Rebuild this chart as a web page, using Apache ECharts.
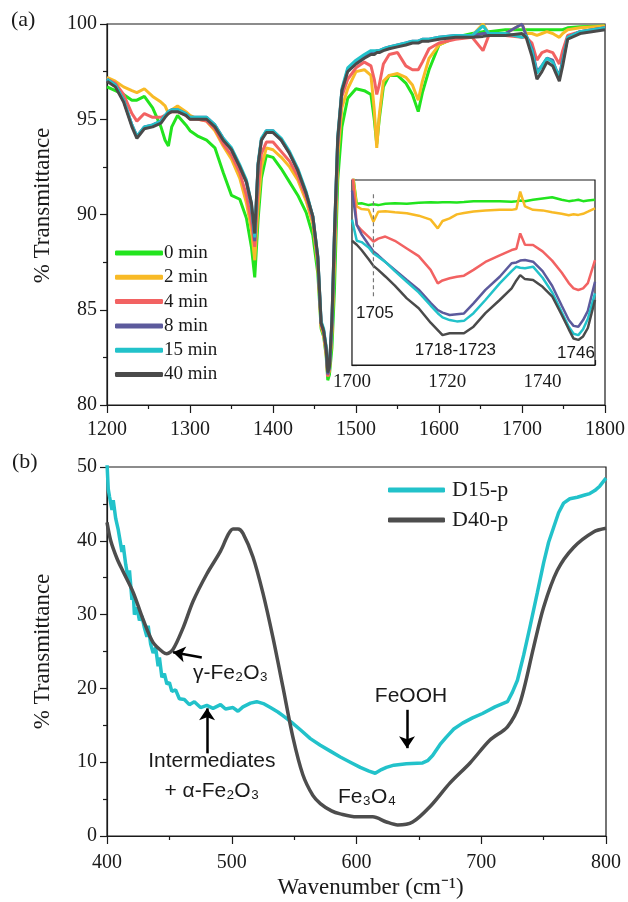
<!DOCTYPE html>
<html><head><meta charset="utf-8">
<script src="https://cdn.jsdelivr.net/npm/echarts@6/dist/echarts.min.js"></script>
<style>html,body{margin:0;padding:0;background:#fff}#c{width:628px;height:902px}</style>
</head><body><div id="c"></div>
<script>
// ---------- Panel (a): main spectra ----------
const wnA = [1200,1210,1220,1230,1236,1245,1255,1265,1270,1274,1278,1285,1295,1300,1310,1320,1330,1340,1350,1360,1368,1374,1378,1382,1386,1392,1400,1410,1420,1430,1440,1448,1454,1458,1461,1464,1466,1468,1471,1474,1478,1483,1490,1500,1510,1518,1522,1525,1528,1533,1540,1550,1560,1568,1575,1580,1588,1600,1620,1640,1653,1660,1680,1700,1705,1712,1718,1724,1730,1737,1741,1745,1749,1755,1770,1800];
const a40 = [97.0,96.7,95.9,94.6,94.0,94.5,94.6,94.8,95.1,95.3,95.4,95.4,95.2,95.0,95.0,95.0,94.6,93.9,93.4,92.5,91.7,90.6,89.0,92.6,93.9,94.3,94.3,93.9,93.2,92.3,91.1,89.9,87.8,84.3,83.9,83.0,81.7,82.0,84.5,89.0,94.0,96.5,97.5,97.9,98.2,98.4,98.4,98.5,98.5,98.6,98.7,98.8,98.9,99.0,99.0,99.1,99.1,99.2,99.3,99.3,99.35,99.4,99.4,99.5,99.3,98.3,97.1,97.5,98.0,97.8,97.4,97.0,97.8,99.2,99.5,99.7];
const a15 = [97.1,96.8,96.0,94.7,94.1,94.6,94.7,94.9,95.2,95.4,95.5,95.5,95.3,95.1,95.1,95.1,94.7,94.0,93.5,92.6,91.8,90.6,88.8,92.7,94.0,94.4,94.4,94.0,93.3,92.4,91.2,89.9,87.8,84.4,84.0,83.1,81.7,82.0,84.4,89.0,94.1,96.6,97.7,98.1,98.4,98.6,98.6,98.6,98.6,98.7,98.8,98.9,99.0,99.1,99.1,99.2,99.2,99.3,99.4,99.4,99.9,99.5,99.5,99.3,99.4,98.6,97.4,97.8,98.2,98.0,97.6,97.2,98.0,99.3,99.6,99.8];
const a8 = [97.1,96.8,96.0,94.7,94.1,94.6,94.7,94.9,95.2,95.4,95.5,95.5,95.3,95.1,95.1,95.1,94.7,94.0,93.4,92.5,91.7,90.4,88.6,92.6,93.9,94.4,94.4,93.9,93.2,92.3,91.1,89.9,87.7,84.3,83.9,83.0,81.6,82.0,84.3,88.8,93.9,96.5,97.6,98.0,98.3,98.5,98.5,98.6,98.6,98.7,98.8,98.9,99.0,99.1,99.1,99.2,99.2,99.3,99.4,99.4,99.5,99.5,99.5,100.0,99.4,98.7,97.5,97.8,98.2,98.1,97.6,97.3,98.1,99.3,99.6,99.8];
const a4 = [97.1,96.9,96.3,95.3,94.9,95.3,95.1,95.1,95.2,95.3,95.4,95.4,95.2,95.0,95.0,94.9,94.5,93.7,93.1,92.2,91.0,89.6,88.3,91.3,93.2,93.8,93.8,93.3,92.8,92.0,90.9,89.7,87.5,84.2,83.8,82.8,81.5,81.9,84.0,88.0,93.5,96.2,97.1,97.7,98.0,97.8,97.1,96.3,96.8,97.9,98.4,98.5,97.8,97.6,97.6,98.0,98.7,99.0,99.2,99.3,98.6,99.4,99.4,99.3,99.3,99.0,98.1,98.5,98.6,98.5,98.2,97.9,98.6,99.4,99.6,99.8];
const a2 = [97.2,97.0,96.7,96.5,96.4,96.6,96.2,95.9,95.7,95.3,95.5,95.7,95.4,95.2,95.0,94.9,94.4,93.6,92.9,91.9,90.6,89.2,87.6,90.4,92.5,93.5,93.4,93.0,92.5,91.8,90.7,89.5,87.3,84.1,83.7,82.7,81.5,81.8,83.8,87.5,93.0,95.6,96.6,97.5,97.6,97.3,95.5,93.5,95.2,97.0,97.3,97.4,97.2,96.8,96.0,97.0,98.2,98.9,99.3,99.4,100.0,99.5,99.5,100.0,99.5,99.5,99.4,99.5,99.6,99.5,99.4,99.3,99.5,99.7,99.8,99.9];
const a0 = [96.7,96.5,96.3,96.0,96.0,96.2,95.6,94.6,93.9,93.6,94.6,95.2,94.7,94.4,94.1,93.9,93.5,92.2,91.0,90.8,89.8,88.3,86.7,89.7,91.9,93.1,93.0,92.4,91.7,91.0,90.1,88.9,86.9,84.0,83.6,82.6,81.3,81.6,83.0,86.0,91.8,94.6,96.1,96.6,96.5,96.3,95.0,93.7,95.0,96.7,97.3,97.3,96.9,96.3,95.4,96.4,97.6,98.9,99.3,99.5,99.6,99.6,99.7,99.7,99.7,99.7,99.7,99.7,99.7,99.7,99.7,99.7,99.7,99.8,99.85,99.9];
const namesA = ['0 min','2 min','4 min','8 min','15 min','40 min'];
const colorsA = ['#22e41e','#f8ba26','#f26262','#5c5a9c','#22c2ca','#4a4a4a'];

// ---------- Inset (arbitrary units) ----------
const wnI = [1700,1701,1702,1703.5,1704.5,1705.5,1707,1709,1711.5,1714,1716.5,1718,1719,1720.5,1722,1723.5,1725.5,1728,1731,1733.5,1734.5,1735.3,1736.3,1738,1740,1742,1744,1745.5,1746.5,1747.5,1748.5,1749.5,1751];
const i0 = [7.5,6.1,6.12,6.05,6.08,6.05,6.1,6.12,6.1,6.14,6.16,6.15,6.16,6.16,6.15,6.17,6.2,6.2,6.2,6.18,6.2,6.22,6.2,6.25,6.3,6.35,6.25,6.2,6.22,6.25,6.2,6.22,6.25];
const i2 = [7.5,6.0,5.9,5.87,5.42,5.8,5.82,5.78,5.74,5.65,5.5,5.17,5.45,5.55,5.7,5.75,5.81,5.85,5.87,5.87,5.9,6.56,6.0,5.87,5.85,5.78,5.72,5.67,5.7,5.68,5.72,5.8,5.93];
const i4 = [7.5,5.3,5.1,4.85,4.67,4.78,4.86,4.7,4.41,4.12,3.6,3.09,3.2,3.28,3.34,3.38,3.6,3.9,4.15,4.35,4.4,4.98,4.55,4.54,4.3,3.95,3.5,3.1,2.9,2.84,2.9,3.1,3.97];
const i8 = [6.6,5.3,4.95,4.55,4.3,4.15,3.9,3.6,3.22,2.85,2.35,2.08,1.98,1.89,1.92,1.95,2.33,2.84,3.34,3.85,3.88,3.95,3.97,3.91,3.55,3.0,2.25,1.7,1.48,1.45,1.7,2.05,3.15];
const i15 = [5.5,4.7,4.65,4.45,4.22,4.1,3.9,3.55,3.15,2.75,2.25,1.96,1.8,1.7,1.65,1.67,1.96,2.46,3.09,3.55,3.72,3.68,3.66,3.72,3.3,2.75,2.0,1.45,1.18,1.13,1.35,1.75,2.71];
const i40 = [4.7,4.55,4.35,4.0,3.75,3.6,3.35,3.0,2.52,2.15,1.6,1.32,1.13,1.2,1.2,1.2,1.45,1.96,2.46,2.9,3.2,3.4,3.25,3.22,2.96,2.6,1.9,1.35,1.0,0.95,1.08,1.4,2.46];
const insetMarkX = [1704.5, 1704.5];
const insetMarkY = [2.6, 6.5];
const insetLabels = [['1705',1704.8,1.97],['1718-1723',1721.7,0.57],['1746',1747,0.45]];

// ---------- Panel (b) ----------
const wnD40 = [400,403,408,413,421,429,437,445,448,453,461,469,480,491,497,501,505,509,517,525,533,541,549,557,565,571,580,587,600,613,624,633,645,659,675,691,707,721,731,742,750,761,774,790,800];
const d40 = [42.5,40.0,37.6,35.8,33.0,29.3,26.2,24.9,24.7,25.3,28.2,31.8,35.5,38.6,40.8,41.6,41.6,41.0,37.8,32.9,26.9,20.2,13.4,8.3,5.5,4.4,3.4,3.0,2.6,2.6,1.9,1.5,1.9,4.0,7.2,9.9,13.0,14.8,18.0,25.6,31.0,36.0,39.1,41.2,41.7];
const wnD15 = [400,401,402,404,405,407,409,410,412,413,415,417,418,420,421,422,424,426,428,430,432,433,435,437,439,441,442,444,446,448,450,452,455,458,462,466,470,475,480,485,491,495,501,505,509,515,520,526,531,537,541,548,555,563,571,579,587,595,603,610,615,620,624,630,640,653,657,661,667,672,678,685,693,701,711,721,725,729,734,739,745,750,754,758,762,766,771,777,783,787,791,795,800];
const d15 = [50.5,47.0,46.0,44.2,45.5,43.0,41.5,40.5,38.5,39.4,36.8,34.8,36.0,32.0,33.0,30.0,31.0,29.2,29.8,28.2,27.0,28.5,26.0,24.8,25.5,23.0,24.2,21.5,22.0,20.6,20.8,19.6,19.8,18.6,18.5,17.8,18.2,17.4,17.7,17.3,17.8,17.2,17.4,16.9,17.5,18.0,18.2,17.9,17.4,16.8,16.3,15.4,14.4,13.2,12.3,11.5,10.7,10.0,9.3,8.8,8.5,9.0,9.3,9.6,9.8,9.9,10.2,10.9,12.4,13.4,14.5,15.3,16.0,16.6,17.5,18.2,19.5,21.1,24.5,28.3,33.0,37.0,39.8,41.8,43.8,45.1,45.7,45.9,46.2,46.4,46.8,47.4,48.5];
const annotB = [['γ-Fe₂O₃',499,22.1],['Intermediates',484,10.2],['+ α-Fe₂O₃',484,6.1],['FeOOH',643.7,19.0],['Fe₃O₄',608.4,5.3]];
const arrowsB = [[[476,24.2],[453,24.9]],[[480.2,11.2],[480.2,17.3]],[[640.5,17.1],[640.5,11.9]]];

const SERIF = '"Liberation Serif","Times New Roman",serif';
const SANS = '"Liberation Sans",Arial,sans-serif';
const INK = '#1a1a1a';
const zip = (xs, ys) => xs.map((x, i) => [x, ys[i]]);
const plain = v => String(v);

const axisLine = {show:true, onZero:false, lineStyle:{color:INK, width:1.2}};
function mkX(grid, min, max, interval, extra) {
  return Object.assign({
    gridIndex:grid, type:'value', min, max, interval,
    axisLine, splitLine:{show:false},
    axisTick:{show:true, inside:false, length:8, lineStyle:{color:INK, width:1.2}},
    minorTick:{show:true, splitNumber:2, length:4, lineStyle:{color:INK, width:1.2}},
    axisLabel:{fontFamily:SERIF, fontSize:20, color:INK, margin:15, formatter:plain}
  }, extra || {});
}
function mkY(grid, min, max, interval, extra) {
  return Object.assign({
    gridIndex:grid, type:'value', min, max, interval,
    axisLine, splitLine:{show:false},
    axisTick:{show:true, inside:false, length:7, lineStyle:{color:INK, width:1.2}},
    minorTick:{show:true, splitNumber:2, length:4, lineStyle:{color:INK, width:1.2}},
    axisLabel:{fontFamily:SERIF, fontSize:20, color:INK, margin:10, formatter:plain}
  }, extra || {});
}

const dataA = [a0, a2, a4, a8, a15, a40];
const dataI = [i0, i2, i4, i8, i15, i40];
const series = [];
dataA.forEach((d, k) => series.push({
  name:namesA[k], type:'line', xAxisIndex:0, yAxisIndex:0, data:zip(wnA, d),
  symbol:'none', showSymbol:false, lineStyle:{width:3, color:colorsA[k]}, itemStyle:{color:colorsA[k]}, z:2+k
}));
dataI.forEach((d, k) => series.push({
  name:'inset ' + namesA[k], type:'line', xAxisIndex:1, yAxisIndex:1, data:zip(wnI, d),
  symbol:'none', showSymbol:false, clip:true, lineStyle:{width:2.5, color:colorsA[k]}, itemStyle:{color:colorsA[k]}, z:10+k
}));
series.push({
  name:'inset mark', type:'line', xAxisIndex:1, yAxisIndex:1, data:zip(insetMarkX, insetMarkY),
  symbol:'none', lineStyle:{width:1.2, color:'#777', type:[4,3]}, z:20
});
series.push({
  name:'D15-p', type:'line', xAxisIndex:2, yAxisIndex:2, data:zip(wnD15, d15),
  symbol:'none', showSymbol:false, clip:true, lineStyle:{width:3.5, color:'#22c2ca'}, itemStyle:{color:'#22c2ca'}, z:3
});
series.push({
  name:'D40-p', type:'line', xAxisIndex:2, yAxisIndex:2, data:zip(wnD40, d40), smooth:0.3,
  symbol:'none', showSymbol:false, lineStyle:{width:3.5, color:'#4d4d4d'}, itemStyle:{color:'#4d4d4d'}, z:4,
  markLine:{silent:true, symbol:['none','arrow'], symbolSize:12, animation:false,
    label:{show:false}, lineStyle:{color:'#000', width:2.5, type:'solid'},
    emphasis:{disabled:true},
    data:arrowsB.map(p => [{coord:p[0]}, {coord:p[1]}])}
});

const chart = echarts.init(document.getElementById('c'), null, {renderer:'canvas'});
const option = {
  animation:false,
  backgroundColor:'#fff',
  grid:[
    {left:107, top:24, width:498, height:381, show:true, borderColor:INK, borderWidth:1.2, backgroundColor:'transparent', containLabel:false, outerBoundsMode:'none'},
    {left:352, top:180, width:243, height:185, show:true, borderColor:INK, borderWidth:1.2, backgroundColor:'#fff', containLabel:false, outerBoundsMode:'none', z:5},
    {left:107, top:467, width:499, height:369, show:true, borderColor:INK, borderWidth:1.2, backgroundColor:'transparent', containLabel:false, outerBoundsMode:'none'}
  ],
  xAxis:[
    mkX(0, 1200, 1800, 100),
    mkX(1, 1700, 1751, 10, {
      axisTick:{show:true, inside:true, length:5, lineStyle:{color:INK, width:1.2}},
      minorTick:{show:false},
      axisLabel:{fontFamily:SERIF, fontSize:19, color:INK, margin:8, formatter:v => (v % 20 === 0 ? String(v) : '')}
    }),
    mkX(2, 400, 800, 100, {
      name:'Wavenumber (cm⁻¹)', nameLocation:'middle', nameGap:40,
      nameTextStyle:{fontFamily:SERIF, fontSize:23, color:INK, padding:[0,0,0,28]},
      axisLabel:{fontFamily:SERIF, fontSize:20, color:INK, margin:17, formatter:plain}
    })
  ],
  yAxis:[
    mkY(0, 80, 100, 5, {
      name:'% Transmittance', nameLocation:'middle', nameGap:53, nameRotate:90,
      nameTextStyle:{fontFamily:SERIF, fontSize:23, color:INK, padding:[0,0,0,18]}
    }),
    mkY(1, 0, 7, 1, {
      axisTick:{show:true, inside:true, length:5, lineStyle:{color:INK, width:1.2}},
      minorTick:{show:false}, axisLabel:{show:false}
    }),
    mkY(2, 0, 50, 10, {
      name:'% Transmittance', nameLocation:'middle', nameGap:53, nameRotate:90,
      nameTextStyle:{fontFamily:SERIF, fontSize:23, color:INK}
    })
  ],
  legend:[
    {data:namesA, orient:'vertical', left:115, top:243.5, padding:0, itemWidth:48, itemHeight:5, itemGap:5.3,
     icon:'roundRect', itemStyle:{borderWidth:0},
     textStyle:{fontFamily:SERIF, fontSize:19, color:INK, padding:[0,0,0,-4]}, selectedMode:false},
    {data:['D15-p','D40-p'], orient:'vertical', left:388, top:479, padding:0, itemWidth:57, itemHeight:5, itemGap:8,
     icon:'roundRect', itemStyle:{borderWidth:0},
     textStyle:{fontFamily:SERIF, fontSize:22, color:INK, padding:[0,0,0,2]}, selectedMode:false}
  ],
  series
};
chart.setOption(option);

function px(axis, x, y) { return chart.convertToPixel({xAxisIndex:axis, yAxisIndex:axis}, [x, y]); }
const graphic = [
  {type:'text', left:11, top:9, style:{text:'(a)', font:'22px ' + SERIF, fill:INK}},
  {type:'text', left:12, top:451, style:{text:'(b)', font:'22px ' + SERIF, fill:INK}}
];
insetLabels.forEach(([t, x, y]) => {
  const p = px(1, x, y);
  graphic.push({type:'text', x:p[0], y:p[1], z:100, style:{text:t, font:'17px ' + SANS, fill:INK, align:'center', verticalAlign:'middle', textAlign:'center', textVerticalAlign:'middle'}});
});
annotB.forEach(([t, x, y]) => {
  const p = px(2, x, y);
  graphic.push({type:'text', x:p[0], y:p[1], z:100, style:{text:t, font:'21px ' + SANS, fill:INK, align:'center', verticalAlign:'middle', textAlign:'center', textVerticalAlign:'middle'}});
});
chart.setOption({graphic});
</script></body></html>
